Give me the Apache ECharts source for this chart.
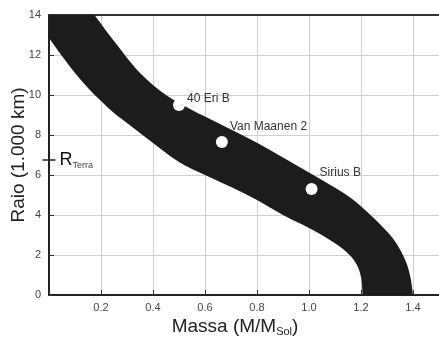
<!DOCTYPE html>
<html>
<head>
<meta charset="utf-8">
<script src="https://cdn.jsdelivr.net/npm/echarts@6/dist/echarts.min.js"></script>
<style>
  html, body { margin: 0; padding: 0; background: #fff; }
  #chart { width: 439px; height: 337px; }
</style>
</head>
<body>
<div id="chart"></div>
<script>
// faixa das anãs brancas: borda de cima
var bandTopMass   = [0.175, 0.25, 0.35, 0.45, 0.55, 0.65, 0.75, 0.85, 0.95, 1.05, 1.15, 1.22, 1.28, 1.33, 1.37, 1.39, 1.40];
var bandTopRadius = [14, 12.7, 11.1, 10.0, 9.25, 8.6, 7.95, 7.25, 6.5, 5.75, 4.95, 4.2, 3.45, 2.7, 1.75, 0.9, 0];
// borda de baixo
var bandLowMass   = [0, 0.05, 0.1, 0.15, 0.2, 0.25, 0.3, 0.35, 0.4, 0.5, 0.6, 0.7, 0.8, 0.9, 1.0, 1.08, 1.14, 1.18, 1.20, 1.206];
var bandLowRadius = [12.85, 11.95, 11.1, 10.35, 9.7, 9.1, 8.6, 8.1, 7.6, 6.65, 6.0, 5.4, 4.75, 4.0, 3.35, 2.75, 2.2, 1.6, 0.9, 0];

// estrelas
var starNames  = ['40 Eri B', 'Van Maanen 2', 'Sirius B'];
var starMass   = [0.50, 0.665, 1.01];
var starRadius = [9.5, 7.65, 5.3];

var earthRadius = 6.75;
var xTicks = [0.2, 0.4, 0.6, 0.8, 1.0, 1.2, 1.4];

var box = document.getElementById('chart');
var myChart = echarts.init(box);

var font = 'Liberation Sans, Arial, sans-serif';
var labelOffsets = [[0, -6], [0, -15], [0, -16]];

var starData = starNames.map(function(n, i) {
    return {
        name: n,
        value: [starMass[i], starRadius[i]],
        label: { offset: labelOffsets[i] }
    };
});

/* curva suave (catmull-rom) passando pelos pontos */
function smoothPath(pts) {
    var d = ' L' + pts[0][0] + ' ' + pts[0][1];
    for (var i = 0; i < pts.length - 1; i++) {
        var p0 = pts[i - 1] || pts[i];
        var p1 = pts[i];
        var p2 = pts[i + 1];
        var p3 = pts[i + 2] || p2;
        var c1x = p1[0] + (p2[0] - p0[0]) / 6;
        var c1y = p1[1] + (p2[1] - p0[1]) / 6;
        var c2x = p2[0] - (p3[0] - p1[0]) / 6;
        var c2y = p2[1] - (p3[1] - p1[1]) / 6;
        d += ' C' + c1x + ' ' + c1y + ' ' + c2x + ' ' + c2y + ' ' + p2[0] + ' ' + p2[1];
    }
    return d;
}

var option = {
    animation: false,
    grid: { left: 49, top: 15, right: 0, bottom: 42, outerBoundsMode: 'none', containLabel: false },
    xAxis: [
        {
            type: 'value',
            min: 0,
            max: 1.5,
            interval: 0.2,
            name: 'Massa (M/M{sub|Sol})',
            nameLocation: 'middle',
            nameGap: 22,
            nameMoveOverlap: false,
            nameTextStyle: {
                fontFamily: font, fontSize: 19, color: '#222',
                padding: [0, 18, 0, 0],
                rich: { sub: { fontFamily: font, fontSize: 11, color: '#222', verticalAlign: 'bottom', padding: [9, 0, 0, 0] } }
            },
            axisLine: { lineStyle: { color: '#222', width: 2 } },
            axisTick: { inside: true, length: 5, lineStyle: { color: '#333' } },
            axisLabel: {
                fontFamily: font, fontSize: 11, color: '#444', margin: 7,
                formatter: function(v) {
                    var hit = xTicks.some(function(t) { return Math.abs(t - v) < 1e-6; });
                    return hit ? v.toFixed(1) : '';
                }
            },
            splitLine: { show: true, lineStyle: { color: '#cfcfcf' } }
        },
        {
            type: 'value',
            position: 'top',
            min: 0,
            max: 1.5,
            axisLine: { show: true, lineStyle: { color: '#333', width: 2 } },
            axisTick: { show: false },
            axisLabel: { show: false },
            splitLine: { show: false }
        }
    ],
    yAxis: {
        type: 'value',
        min: 0,
        max: 14,
        interval: 2,
        name: 'Raio (1.000 km)',
        nameLocation: 'middle',
        nameGap: 21,
        nameMoveOverlap: false,
        nameTextStyle: { fontFamily: font, fontSize: 19, color: '#222' },
        axisLine: { show: true, lineStyle: { color: '#222', width: 2 } },
        axisTick: { show: true, inside: true, length: 5, lineStyle: { color: '#333' } },
        axisLabel: { fontFamily: font, fontSize: 11, color: '#444', margin: 8 },
        splitLine: { show: true, lineStyle: { color: '#cfcfcf' } }
    },
    series: [
        {
            name: 'faixa',
            type: 'custom',
            data: [[0, 0]],
            renderItem: function(params, api) {
                var top = bandTopMass.map(function(m, i) { return api.coord([m, bandTopRadius[i]]); });
                var low = bandLowMass.map(function(m, i) { return api.coord([m, bandLowRadius[i]]); }).reverse();
                var corner = api.coord([0, 14]);
                var d = 'M' + corner[0] + ' ' + corner[1];
                d += smoothPath(top);
                d += smoothPath(low);
                d += ' Z';
                return {
                    type: 'path',
                    shape: { pathData: d },
                    style: { fill: '#1c1c1c' }
                };
            },
            z: 2
        },
        {
            name: 'estrelas',
            type: 'scatter',
            symbolSize: 12,
            itemStyle: { color: '#fff', opacity: 1 },
            label: {
                show: true,
                position: 'right',
                distance: 2,
                formatter: '{b}',
                fontFamily: font, fontSize: 12, color: '#333'
            },
            data: starData,
            z: 3
        },
        {
            name: 'terra',
            type: 'scatter',
            clip: false,
            symbol: 'rect',
            symbolSize: [13, 1.5],
            itemStyle: { color: '#222', opacity: 1 },
            label: {
                show: true,
                position: 'right',
                distance: 4,
                formatter: 'R{sub|Terra}',
                fontFamily: font, fontSize: 18, color: '#111',
                rich: { sub: { fontFamily: font, fontSize: 9, color: '#444', verticalAlign: 'bottom', padding: [11, 0, 0, 0] } }
            },
            data: [[0, earthRadius]],
            z: 4
        }
    ]
};

myChart.setOption(option);
</script>
</body>
</html>
